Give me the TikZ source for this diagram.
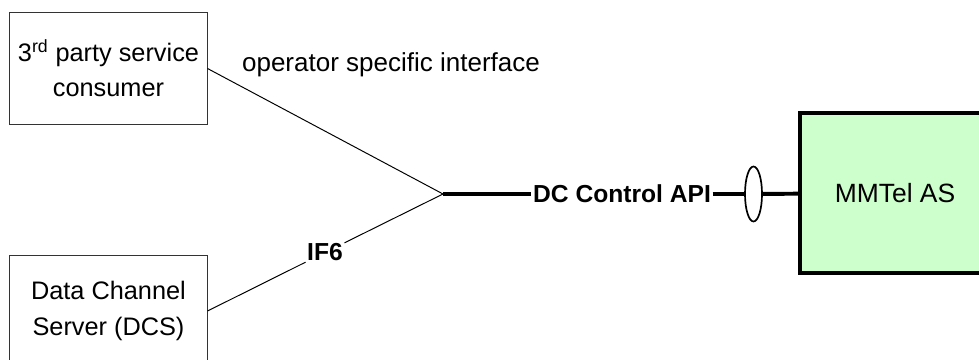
\documentclass[tikz,border=0pt]{standalone}
\usepackage{fontspec}
\setmainfont{Liberation Sans}
\usetikzlibrary{shapes.geometric}
\definecolor{ascol}{HTML}{CCFFCC}

\begin{document}
\begin{tikzpicture}[
  x=0.025cm, y=-0.025cm,
  font=\fontsize{18}{25}\selectfont,
  entity/.style={
    draw=black!80, line width=0.7pt,
    minimum width=4.925cm, minimum height=2.775cm,
    align=center, inner sep=0pt,
  },
  server/.style={
    draw=black, fill=ascol, line width=2.4pt,
    minimum width=4.75cm, minimum height=4cm,
    font=\fontsize{18.8}{25}\selectfont,
  },
  thinlink/.style={line width=0.7pt},
  thicklink/.style={line width=2.8pt},
  iflabel/.style={font=\fontsize{17.5}{25}\selectfont\bfseries, fill=white, inner sep=1pt},
  plug/.style={ellipse, draw, fill=white, line width=1.2pt,
    minimum width=0.425cm, minimum height=1.375cm, inner sep=0pt},
]
\clip (0,0) rectangle (979,360);

% =================== entities ===================
\node[entity] (c3p) at (108.5, 68.5) {3\textsuperscript{rd} party service\\consumer};
\node[entity] (dcs) at (108.5, 311) {Data Channel\\Server (DCS)};
\node[server] (mmtel) at (895, 193) {MMTel AS};

% =================== interfaces ===================
\coordinate (hub) at (443, 194);
\node[iflabel] (if6) at (325, 252.5) {IF6};
\node[iflabel] (api) at (622, 194) {DC Control API};
\node[plug] (ref) at (753.5, 194) {};

% links into the hub
\draw[thinlink] (c3p.east) -- (hub);
\draw[thinlink] (dcs.east) -- (if6) -- (hub);
\node[fill=white, inner sep=2pt, anchor=base west, font=\fontsize{18.5}{25}\selectfont] (opif)
  at (239, 72) {operator specific interface};

% API towards the AS
\draw[thicklink] (hub) -- (api);
\draw[thicklink] (api) -- (ref);
\draw[thicklink] (ref) -- (mmtel);

\end{tikzpicture}
\end{document}
